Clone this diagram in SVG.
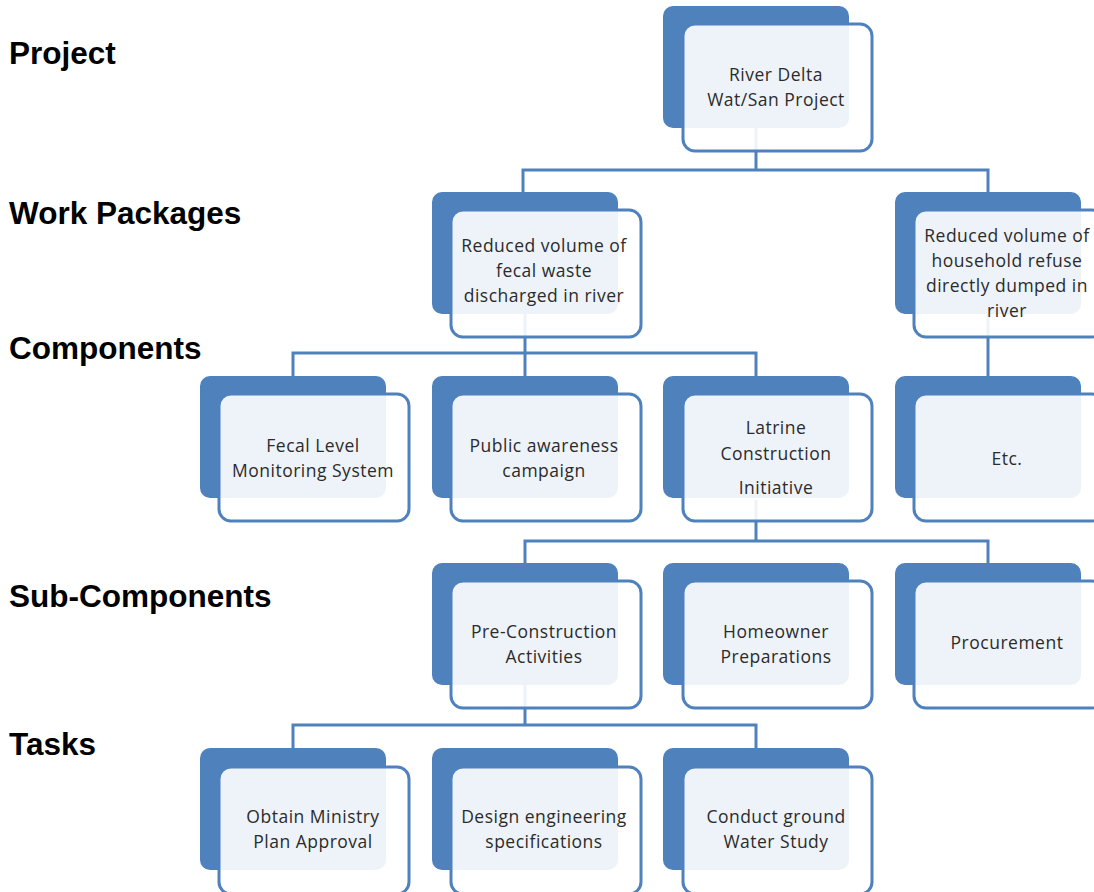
<svg xmlns="http://www.w3.org/2000/svg" width="1094" height="892" viewBox="0 0 1094 892">
<style>
.back{fill:#4f81bd;}
.front{fill:#ffffff;fill-opacity:0.9;stroke:#4f81bd;stroke-width:3;}
.t{font-family:"Open Sans","Noto Sans",sans-serif;font-size:17.5px;letter-spacing:0.5px;fill:#2b2b2b;text-anchor:middle;}
.lvl{font-family:"Liberation Sans",Arial,sans-serif;font-size:31.5px;font-weight:bold;fill:#000000;}
.c{fill:none;stroke:#4f81bd;stroke-width:3;}
</style>
<rect width="1094" height="892" fill="#ffffff"/>
<g id="levels">
<text class="lvl" x="9" y="64">Project</text>
<text class="lvl" x="9" y="224">Work Packages</text>
<text class="lvl" x="9" y="359">Components</text>
<text class="lvl" x="9" y="607">Sub-Components</text>
<text class="lvl" x="9" y="755">Tasks</text>
</g>
<g id="connectors">
<path class="c" d="M756 128V170M523 192V170H988V192"/>
<path class="c" d="M525 314V353M293 376V353H756V376M525 353V376"/>
<path class="c" d="M988 314V376"/>
<path class="c" d="M756 500V541M525 563V541H988V563"/>
<path class="c" d="M525 685V725M293 748V725H756V748"/>
</g>
<g id="n-project">
<rect class="back" x="663" y="6" width="186" height="122" rx="10"/>
<rect class="front" x="683" y="24" width="189" height="127" rx="12"/>
<text class="t" x="776" y="81">River Delta</text>
<text class="t" x="776" y="106">Wat/San Project</text>
</g>
<g id="n-wp1">
<rect class="back" x="432" y="192" width="186" height="122" rx="10"/>
<rect class="front" x="451" y="210" width="190" height="127" rx="12"/>
<text class="t" x="544" y="252">Reduced volume of</text>
<text class="t" x="544" y="277">fecal waste</text>
<text class="t" x="544" y="302">discharged in river</text>
</g>
<g id="n-wp2">
<rect class="back" x="895" y="192" width="186" height="122" rx="10"/>
<rect class="front" x="914" y="210" width="190" height="127" rx="12"/>
<text class="t" x="1007" y="242">Reduced volume of</text>
<text class="t" x="1007" y="267">household refuse</text>
<text class="t" x="1007" y="292">directly dumped in</text>
<text class="t" x="1007" y="317">river</text>
</g>
<g id="n-fecal">
<rect class="back" x="200" y="376" width="186" height="122" rx="10"/>
<rect class="front" x="219" y="394" width="190" height="127" rx="12"/>
<text class="t" x="313" y="452">Fecal Level</text>
<text class="t" x="313" y="477">Monitoring System</text>
</g>
<g id="n-public">
<rect class="back" x="432" y="376" width="186" height="122" rx="10"/>
<rect class="front" x="451" y="394" width="190" height="127" rx="12"/>
<text class="t" x="544" y="452">Public awareness</text>
<text class="t" x="544" y="477">campaign</text>
</g>
<g id="n-latrine">
<rect class="back" x="663" y="376" width="186" height="122" rx="10"/>
<rect class="front" x="683" y="394" width="189" height="127" rx="12"/>
<text class="t" x="776" y="434">Latrine</text>
<text class="t" x="776" y="460">Construction</text>
<text class="t" x="776" y="494">Initiative</text>
</g>
<g id="n-etc">
<rect class="back" x="895" y="376" width="186" height="122" rx="10"/>
<rect class="front" x="914" y="394" width="190" height="127" rx="12"/>
<text class="t" x="1007" y="465">Etc.</text>
</g>
<g id="n-precon">
<rect class="back" x="432" y="563" width="186" height="122" rx="10"/>
<rect class="front" x="451" y="581" width="190" height="127" rx="12"/>
<text class="t" x="544" y="638">Pre-Construction</text>
<text class="t" x="544" y="663">Activities</text>
</g>
<g id="n-home">
<rect class="back" x="663" y="563" width="186" height="122" rx="10"/>
<rect class="front" x="683" y="581" width="189" height="127" rx="12"/>
<text class="t" x="776" y="638">Homeowner</text>
<text class="t" x="776" y="663">Preparations</text>
</g>
<g id="n-proc">
<rect class="back" x="895" y="563" width="186" height="122" rx="10"/>
<rect class="front" x="914" y="581" width="190" height="127" rx="12"/>
<text class="t" x="1007" y="649">Procurement</text>
</g>
<g id="n-obtain">
<rect class="back" x="200" y="748" width="186" height="122" rx="10"/>
<rect class="front" x="219" y="767" width="190" height="127" rx="12"/>
<text class="t" x="313" y="823">Obtain Ministry</text>
<text class="t" x="313" y="848">Plan Approval</text>
</g>
<g id="n-design">
<rect class="back" x="432" y="748" width="186" height="122" rx="10"/>
<rect class="front" x="451" y="767" width="190" height="127" rx="12"/>
<text class="t" x="544" y="823">Design engineering</text>
<text class="t" x="544" y="848">specifications</text>
</g>
<g id="n-conduct">
<rect class="back" x="663" y="748" width="186" height="122" rx="10"/>
<rect class="front" x="683" y="767" width="189" height="127" rx="12"/>
<text class="t" x="776" y="823">Conduct ground</text>
<text class="t" x="776" y="848">Water Study</text>
</g>
</svg>
